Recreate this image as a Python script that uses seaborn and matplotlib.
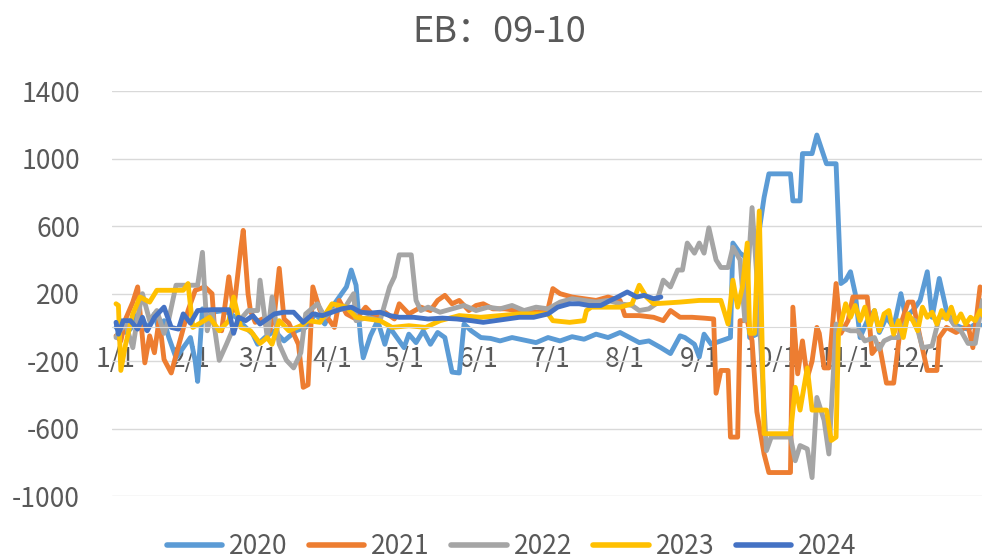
import pandas as pd
import numpy as np
import matplotlib
matplotlib.use("Agg")
import matplotlib.pyplot as plt
import seaborn as sns

# Spread values (day of year -> value)
days_2020 = [0, 2, 4, 6, 8, 10, 12, 14, 16, 18, 20, 22, 25, 29, 31, 33, 34, 36, 40, 45, 50, 54, 57, 59, 62, 66, 70,
             75, 79, 83, 87, 90, 93, 96, 98, 100, 102, 103, 106, 109, 112, 114, 117, 120, 122, 125, 128, 131, 134, 137,
             140, 143, 145, 148, 152, 156, 160, 165, 170, 175, 180, 185, 190, 195, 200, 205, 210, 214, 218, 222, 227,
             231, 235, 237, 241, 243, 245, 248, 252, 256, 257, 260, 262, 264, 267, 268, 270, 272, 281, 282, 285, 286,
             290, 292, 296, 300, 302, 304, 306, 308, 310, 313, 316, 318, 321, 324, 327, 329, 332, 335, 338, 340, 343,
             346, 349, 352, 355, 358, 361]
vals_2020 = [0, 40, -30, -10, 70, 60, -10, 20, 80, -20, 40, -60, -180, -100, -60, -200, -320, 110, 90, 100, 60, 0,
             -40, -100, -60, -20, -80, -20, 0, 80, 20, 120, 180, 240, 340, 250, -80, -180, -50, 40, -100, 0, -60, -120,
             -40, -90, -20, -100, -30, -60, -265, -270, 20, -20, -60, -65, -80, -60, -75, -90, -60, -80, -55, -70, -40,
             -60, -30, -60, -90, -80, -120, -155, -50, -60, -100, -175, -40, -100, -80, -60, 500, 440, 420, -60, -40,
             575, 770, 910, 910, 750, 750, 1030, 1030, 1140, 970, 970, 260, 280, 330, 200, -60, 40, 100, -30, 60, 0,
             200, 60, 100, 160, 330, 60, 290, 100, 20, 0, -10, 20, 10]

days_2021 = [0, 2, 4, 7, 9, 12, 14, 16, 18, 20, 23, 27, 30, 33, 37, 40, 41, 44, 47, 49, 52, 53, 55, 56, 58, 61, 64,
             66, 68, 70, 72, 76, 78, 80, 82, 85, 88, 91, 93, 96, 100, 104, 108, 112, 116, 118, 122, 127, 131, 134, 137,
             140, 143, 147, 150, 153, 157, 162, 167, 172, 177, 180, 182, 185, 190, 195, 200, 205, 210, 212, 218, 224,
             228, 231, 235, 240, 245, 249, 250, 252, 255, 256, 259, 260, 263, 265, 267, 270, 272, 281, 282, 284, 286,
             288, 290, 292, 293, 295, 297, 300, 302, 305, 307, 313, 315, 318, 321, 324, 327, 330, 332, 335, 338, 342,
             343, 346, 350, 355, 357, 360]
vals_2021 = [-50, -80, 50, 150, 240, -210, -50, -150, 50, -190, -270, -60, 100, 220, 240, 200, 0, -20, 300, 100, 470,
             575, 200, 100, 30, 50, -20, 80, 350, 50, 25, -100, -355, -340, 240, 100, 60, 0, 160, 80, 50, 120, 60, 90,
             50, 140, 80, 120, 100, 160, 190, 140, 160, 100, 130, 140, 110, 110, 100, 95, 90, 110, 230, 200, 180, 170,
             160, 180, 160, 70, 70, 60, 40, 100, 60, 60, 55, 50, -390, -255, -255, -650, -650, 40, 40, -80, -500, -750,
             -860, -860, 120, -275, -80, -300, -200, 0, -35, -240, -240, 260, -35, 40, 180, 180, -155, -100, -330,
             -330, 20, 150, 150, -60, -255, -255, -60, 0, -30, 10, -120, 240]

days_2022 = [0, 1, 4, 7, 9, 11, 14, 17, 20, 22, 25, 34, 36, 37, 38, 40, 43, 46, 49, 55, 59, 60, 63, 65, 68, 71, 74,
             77, 79, 84, 87, 90, 95, 99, 100, 105, 110, 114, 116, 118, 123, 125, 127, 130, 135, 140, 145, 150, 155, 160,
             165, 170, 175, 180, 185, 190, 195, 200, 205, 210, 215, 218, 222, 225, 228, 231, 234, 236, 238, 241, 243,
             245, 247, 250, 252, 255, 257, 260, 262, 265, 267, 269, 271, 273, 281, 283, 285, 288, 290, 292, 295, 297,
             300, 302, 306, 309, 312, 316, 318, 320, 323, 326, 330, 333, 336, 340, 343, 347, 350, 352, 355, 358, 361]
vals_2022 = [-60, -30, 20, -120, 60, 200, 40, 100, -35, 50, 250, 250, 445, 200, -20, 100, -195, -100, 0, 100, 100,
             280, -60, 180, -100, -195, -240, -150, 80, 140, 60, 100, 110, 200, 40, 60, 40, 240, 300, 430, 430, 160,
             100, 120, 90, 110, 130, 100, 120, 110, 130, 100, 120, 110, 150, 170, 160, 150, 160, 140, 130, 100, 110,
             140, 280, 240, 340, 340, 500, 440, 500, 440, 590, 400, 355, 355, 475, 400, 40, 710, 300, -200, -730, -650,
             -650, -790, -700, -720, -890, -415, -550, -750, 20, 0, -20, -20, -80, -60, -130, -80, -60, -60, 60, 40,
             -120, -110, 60, 60, 0, -20, -95, -95, 160]

days_2023 = [0, 1, 2, 4, 7, 10, 14, 17, 28, 30, 32, 35, 39, 43, 47, 49, 52, 56, 60, 63, 65, 68, 72, 77, 80, 85, 90,
             96, 100, 105, 110, 115, 122, 129, 135, 143, 152, 160, 168, 180, 182, 189, 195, 196, 198, 210, 215, 218,
             221, 224, 235, 243, 252, 255, 257, 259, 261, 263, 264, 266, 268, 270, 281, 283, 285, 288, 290, 296, 298,
             300, 301, 304, 306, 308, 310, 312, 314, 316, 318, 320, 322, 324, 326, 328, 330, 332, 334, 336, 338, 340,
             342, 344, 346, 348, 350, 352, 354, 356, 358, 360, 362]
vals_2023 = [140, 130, -255, -100, 80, 180, 150, 220, 220, 260, 0, 25, 60, -20, 40, 180, 0, -20, -95, -60, -100, 40,
             -20, 10, 40, 30, 140, 120, 60, 50, 40, 0, 10, 0, 40, 70, 60, 70, 80, 80, 40, 30, 40, 100, 120, 120, 140,
             250, 180, 140, 150, 160, 160, 20, 280, 120, 240, 500, -35, -35, 690, -630, -630, -355, -490, -240, -490,
             -490, -670, -650, -35, 140, 60, 130, 40, 120, 0, 100, -20, 80, 100, -40, 40, -60, 80, 40, -20, 120, 60,
             90, 20, 100, 50, 120, 30, 80, 20, 60, 40, 100, 50]

days_2024 = [0, 1, 3, 6, 9, 11, 13, 16, 20, 23, 26, 28, 31, 34, 40, 47, 49, 51, 54, 57, 60, 63, 66, 70, 74, 78, 82,
             86, 90, 94, 98, 102, 106, 110, 114, 118, 124, 130, 136, 142, 148, 153, 158, 163, 168, 174, 180, 184, 189,
             193, 197, 202, 206, 209, 213, 217, 220, 224, 227]
vals_2024 = [30, -40, 40, 40, -10, 60, -20, 60, 120, 0, -10, 80, 25, 100, 105, 105, -35, 60, 40, 70, 20, 50, 80, 90,
             90, 30, 80, 70, 90, 110, 120, 90, 85, 90, 70, 60, 60, 50, 55, 50, 40, 30, 40, 50, 60, 60, 80, 120, 140,
             140, 130, 130, 160, 180, 210, 180, 190, 170, 180]

years = ["2020", "2021", "2022", "2023", "2024"]
colors = ["#5B9BD5", "#ED7D31", "#A5A5A5", "#FFC000", "#4472C4"]
month_labels = ["1/1", "2/1", "3/1", "4/1", "5/1", "6/1", "7/1", "8/1", "9/1", "10/1", "11/1", "12/1"]

# Build long table
base = pd.Timestamp("2001-01-01")
series = [(days_2020, vals_2020), (days_2021, vals_2021), (days_2022, vals_2022),
          (days_2023, vals_2023), (days_2024, vals_2024)]
frames = []
for yr, (d, v) in zip(years, series):
    frames.append(pd.DataFrame({"date": base + pd.to_timedelta(d, unit="D"), "value": v, "year": yr}))
df = pd.concat(frames, ignore_index=True)

sns.set_style("white")
plt.rcParams["font.family"] = ["Noto Sans CJK SC", "DejaVu Sans"]
plt.rcParams["axes.unicode_minus"] = False

fig = plt.figure(figsize=(9.82, 5.60), dpi=100)
ax = fig.add_axes([0.114, 0.114, 0.886, 0.7232])

sns.lineplot(data=df, x="date", y="value", hue="year", palette=dict(zip(years, colors)),
             estimator=None, linewidth=3.5, ax=ax, legend=True)

ax.set_ylim(-1000, 1400)
ax.set_yticks(np.arange(-1000, 1401, 400))
ax.set_xlim(base - pd.Timedelta(days=1.7), base + pd.Timedelta(days=360.8))
ax.set_xticks(pd.date_range("2001-01-01", periods=12, freq="MS"))
ax.set_xticklabels(month_labels)

ax.grid(axis="y", color="#D9D9D9", linewidth=1)
ax.set_axisbelow(True)
for s in ["left", "right", "top"]:
    ax.spines[s].set_visible(False)
ax.spines["bottom"].set_position(("data", 0))
ax.spines["bottom"].set_color("#D9D9D9")
ax.tick_params(axis="x", colors="#D9D9D9", labelcolor="#595959", length=3.5, width=1,
               direction="out", pad=10, labelsize=19)
ax.tick_params(axis="y", length=0, pad=23, labelcolor="#595959", labelsize=19)
ax.set_xlabel("")
ax.set_ylabel("")

fig.suptitle("EB：09-10", x=0.508, y=0.975, fontsize=26, color="#595959")

handles, labels = ax.get_legend_handles_labels()
ax.get_legend().remove()
leg = fig.legend(handles, labels, loc="center", bbox_to_anchor=(0.521, 0.024), ncol=5, frameon=False,
                 fontsize=19, handlelength=2.1, columnspacing=0.8, handletextpad=0.27, labelcolor="#595959")
for h in leg.get_lines():
    h.set_linewidth(4)
    h.set_solid_capstyle("round")

plt.savefig("out.png", dpi=100)
